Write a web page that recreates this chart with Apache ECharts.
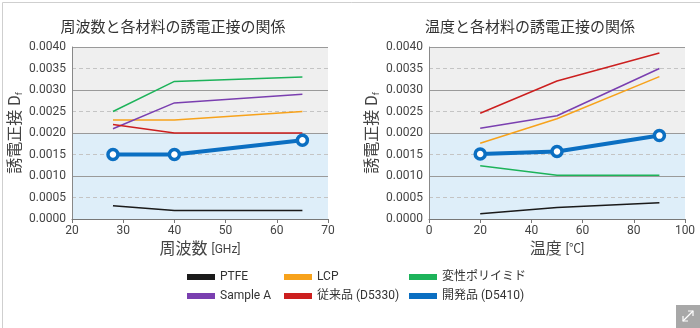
<!DOCTYPE html>
<html><head><meta charset="utf-8">
<script src="https://cdn.jsdelivr.net/npm/echarts@6/dist/echarts.min.js"></script>
<style>html,body{margin:0;padding:0;background:#fff}#c{width:700px;height:328px}</style>
</head><body><div id="c"></div>
<script>
const seriesNames = ['PTFE','LCP','変性ポリイミド','Sample A','従来品 (D5330)','開発品 (D5410)'];
const seriesColors = ['#1a1a1a','#f7a21b','#1db35a','#7a3fb0','#cc1f1f','#0b6fc2'];
const freqGHz = [28, 40, 65];
const freqPTFE = [0.00031, 0.0002, 0.0002];
const freqLCP = [0.0023, 0.0023, 0.0025];
const freqPI = [0.0025, 0.0032, 0.0033];
const freqSampleA = [0.0021, 0.0027, 0.0029];
const freqD5330 = [0.0022, 0.0020, 0.0020];
const freqD5410 = [0.0015, 0.0015, 0.00183];
const tempC = [20, 50, 90];
const tempPTFE = [0.00012, 0.00027, 0.00038];
const tempLCP = [0.00176, 0.00233, 0.00331];
const tempPI = [0.00124, 0.00102, 0.00102];
const tempSampleA = [0.00211, 0.0024, 0.0035];
const tempD5330 = [0.00246, 0.00321, 0.00386];
const tempD5410 = [0.00151, 0.00157, 0.00194];
const yTicks = ['0.0000','0.0005','0.0010','0.0015','0.0020','0.0025','0.0030','0.0035','0.0040'];

const FONT = "Roboto, 'Noto Sans CJK JP', sans-serif";
const freqData = [freqPTFE, freqLCP, freqPI, freqSampleA, freqD5330, freqD5410];
const tempData = [tempPTFE, tempLCP, tempPI, tempSampleA, tempD5330, tempD5410];

function pairs(xs, ys){ return xs.map((x,i)=>[x, ys[i]]); }

const grids = [
  {left:72, right:372, top:47, bottom:109},
  {left:429, right:15, top:47, bottom:109}
];

function xAxisFor(gi, min, max, interval, nm, unit){
  return {type:'value', gridIndex:gi, min, max, interval, z:4,
    axisLine:{show:true, lineStyle:{color:'#777', width:1}},
    axisTick:{show:true, length:4, lineStyle:{color:'#777'}},
    splitLine:{show:false},
    axisLabel:{color:'#444', fontSize:12, fontFamily:FONT, margin:6},
    name:nm + ' {u|' + unit + '}', nameLocation:'middle', nameGap:23,
    nameTextStyle:{color:'#444', fontSize:16, fontFamily:FONT,
      rich:{u:{fontSize:12, color:'#444', fontFamily:FONT}}}
  };
}
function yAxisFor(gi){
  return {type:'value', gridIndex:gi, min:0, max:0.004, interval:0.0005, z:3,
    axisLine:{show:true, lineStyle:{color:'#888'}},
    axisTick:{show:false},
    axisLabel:{color:'#444', fontSize:12, fontFamily:FONT, margin:6,
      formatter:(v)=> yTicks[Math.round(v/0.0005)]},
    splitLine:{show:true, lineStyle:{color:'#c4c4c4', type:[4,3], width:1}},
    name:'誘電正接 D{s|f}', nameLocation:'middle', nameGap:48, nameRotate:90,
    nameTextStyle:{color:'#444', fontSize:16, fontFamily:FONT,
      rich:{s:{fontSize:9, color:'#444', verticalAlign:'bottom', padding:[6,0,0,0]}}}
  };
}
function yAxisSolid(gi){
  return {type:'value', gridIndex:gi, min:0, max:0.004, interval:0.001, z:3,
    axisLine:{show:false}, axisTick:{show:false}, axisLabel:{show:false},
    splitLine:{show:true, lineStyle:{color:'#9a9a9a', width:1}}
  };
}

const series = [];
[freqData, tempData].forEach((set, gi)=>{
  const xs = gi===0 ? freqGHz : tempC;
  series.push({type:'line', xAxisIndex:gi, yAxisIndex:gi*2, data:[], silent:true, z:-1, zlevel:0,
    markArea:{silent:true, z:-1, data:[
      [{yAxis:0, itemStyle:{color:'#deeef9'}},{yAxis:0.002}],
      [{yAxis:0.002, itemStyle:{color:'#efefef'}},{yAxis:0.004}]
    ]}});
  set.forEach((ys, si)=>{
    const main = si===5;
    series.push({
      name:seriesNames[si], type:'line', xAxisIndex:gi, yAxisIndex:gi*2,
      data:pairs(xs, ys), color:seriesColors[si],
      lineStyle:{width: main?4:1.5, color:seriesColors[si]},
      showSymbol:main, symbol: main?'circle':'none', symbolSize:10,
      itemStyle:{color:'#fff', borderColor:seriesColors[si], borderWidth:3.5},
      z: main?10:5, animation:false
    });
  });
});

function legendCol(names, left){
  return {data:names.map(n=>({name:n, icon:'rect', itemStyle:{color:seriesColors[seriesNames.indexOf(n)]}})),
    orient:'vertical', left, top:271, padding:0, itemWidth:26, itemHeight:4, itemGap:7,
    textStyle:{color:'#333', fontSize:12, fontFamily:FONT, padding:[0,0,0,1]}, selectedMode:false};
}

const chart = echarts.init(document.getElementById('c'));
chart.setOption({
  animation:false,
  backgroundColor:'#fff',
  title:[
    {text:'周波数と各材料の誘電正接の関係', left:168, top:16, textAlign:'center',
      textStyle:{color:'#333', fontSize:15, fontWeight:'normal', fontFamily:FONT}},
    {text:'温度と各材料の誘電正接の関係', left:525, top:16, textAlign:'center',
      textStyle:{color:'#333', fontSize:15, fontWeight:'normal', fontFamily:FONT}}
  ],
  grid:grids,
  xAxis:[xAxisFor(0,20,70,10,'周波数','[GHz]'), xAxisFor(1,0,100,20,'温度','[℃]')],
  yAxis:[yAxisFor(0), yAxisSolid(0), yAxisFor(1), yAxisSolid(1)],
  legend:[legendCol(['PTFE','Sample A'],187), legendCol(['LCP','従来品 (D5330)'],284), legendCol(['変性ポリイミド','開発品 (D5410)'],409)],
  series,
  graphic:[
    {type:'rect', left:0, top:0, shape:{width:699, height:327}, style:{fill:'none', stroke:'#cfcfcf', lineWidth:1}, z:100, silent:true},
    {type:'group', left:676, top:305, z:101, children:[
      {type:'rect', shape:{x:0,y:0,width:24,height:23}, style:{fill:'#a8a8a8'}},
      {type:'polyline', shape:{points:[[7,16],[17,6]]}, style:{stroke:'#fff', lineWidth:1.2}},
      {type:'polyline', shape:{points:[[12,6],[17,6],[17,11]]}, style:{stroke:'#fff', fill:'none', lineWidth:1.2}},
      {type:'polyline', shape:{points:[[7,11],[7,16],[12,16]]}, style:{stroke:'#fff', fill:'none', lineWidth:1.2}}
    ]}
  ]
});
</script></body></html>
